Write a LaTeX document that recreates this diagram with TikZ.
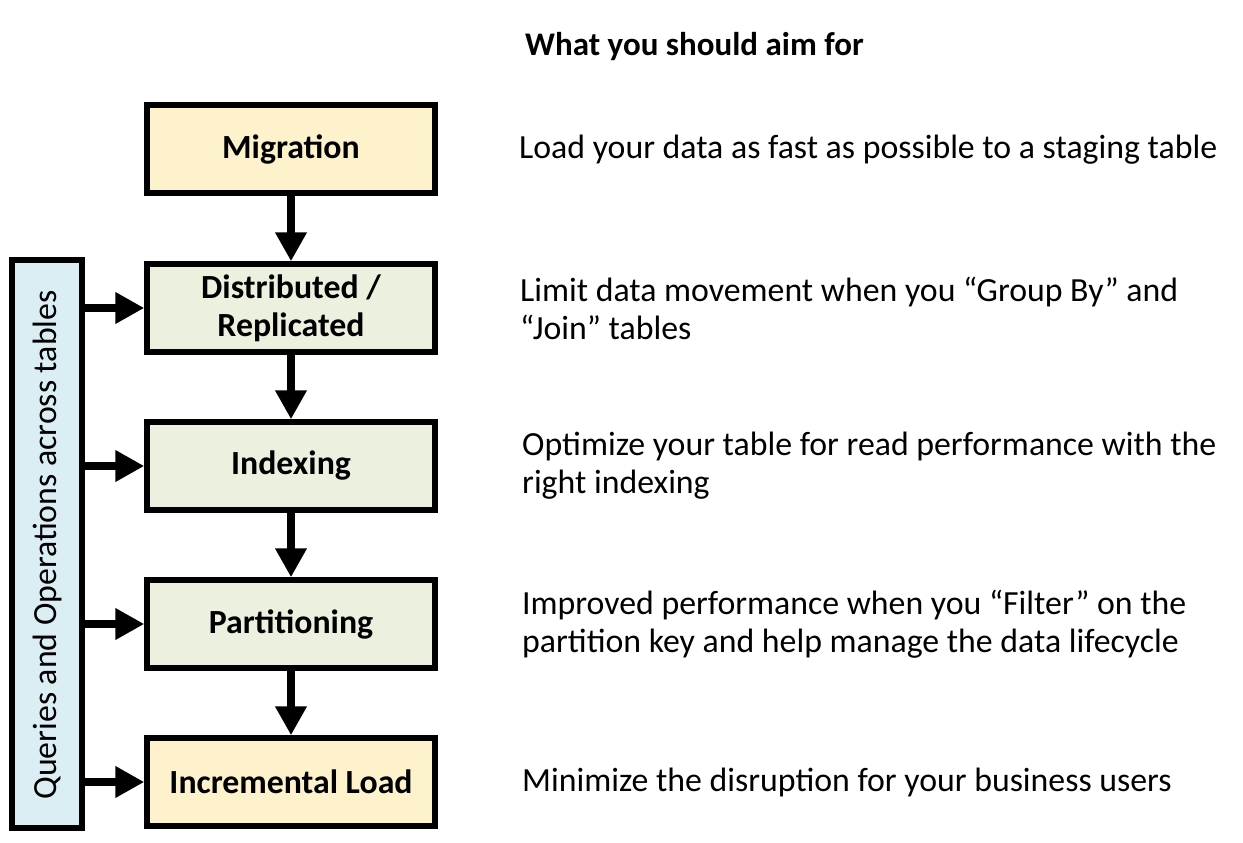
\documentclass[tikz,border=0pt]{standalone}
\usepackage{fontspec}
\setmainfont{Carlito}
\usetikzlibrary{arrows.meta}
\definecolor{cream}{HTML}{FEF2CC}
\definecolor{sage}{HTML}{EBF1DE}
\definecolor{pale}{HTML}{DBEEF4}
\tikzset{
  stepbox/.style={draw=black, line width=5.5pt, minimum width=288pt, minimum height=88pt, font=\fontsize{33.8}{38}\selectfont\bfseries, align=center, inner sep=0pt},
  flow/.style={line width=8pt, -{Triangle[length=29pt,width=30pt]}},
  desc/.style={anchor=west, align=left, font=\fontsize{33.8}{38}\selectfont, inner sep=0pt}
}
\begin{document}
\begin{tikzpicture}[x=1pt,y=-1pt]
\useasboundingbox (0,0) rectangle (1243,843);
% left bar
\node[draw=black, line width=5.5pt, fill=pale, minimum width=70pt, minimum height=568pt, inner sep=0pt] (bar) at (47,544) {};
\node[rotate=90, font=\fontsize{33.8}{38}\selectfont] (bartext) at (47,545) {Queries and Operations across tables};
% boxes
\node[stepbox, fill=cream] (mig) at (291,149) {Migration};
\node[stepbox, fill=sage] (dist) at (291,308) {Distributed /\\Replicated};
\node[stepbox, fill=sage] (idx) at (291,466) {Indexing};
\node[stepbox, fill=sage] (part) at (291,624) {Partitioning};
\node[stepbox, fill=cream] (inc) at (291,782) {Incremental Load};
% vertical arrows
\draw[flow] (mig.south) -- (dist.north);
\draw[flow] (dist.south) -- (idx.north);
\draw[flow] (idx.south) -- (part.north);
\draw[flow] (part.south) -- (inc.north);
% horizontal arrows
\foreach \n in {dist,idx,part,inc}{
  \draw[flow] (bar.east |- \n.west) -- (\n.west);
}
% heading
\node[anchor=west, font=\fontsize{33}{38}\selectfont\bfseries, inner sep=0pt] (head) at (525,47) {What you should aim for};
% descriptions
\node[desc] (d1) at (519,150) {Load your data as fast as possible to a staging table};
\node[desc] (d2) at (520,308) {Limit data movement when you “Group By” and\\“Join” tables};
\node[desc] (d3) at (522,466) {Optimize your table for read performance with the\\right indexing};
\node[desc] (d4) at (522,624) {Improved performance when you “Filter” on the\\partition key and help manage the data lifecycle};
\node[desc] (d5) at (522,782) {Minimize the disruption for your business users};
\end{tikzpicture}
\end{document}
